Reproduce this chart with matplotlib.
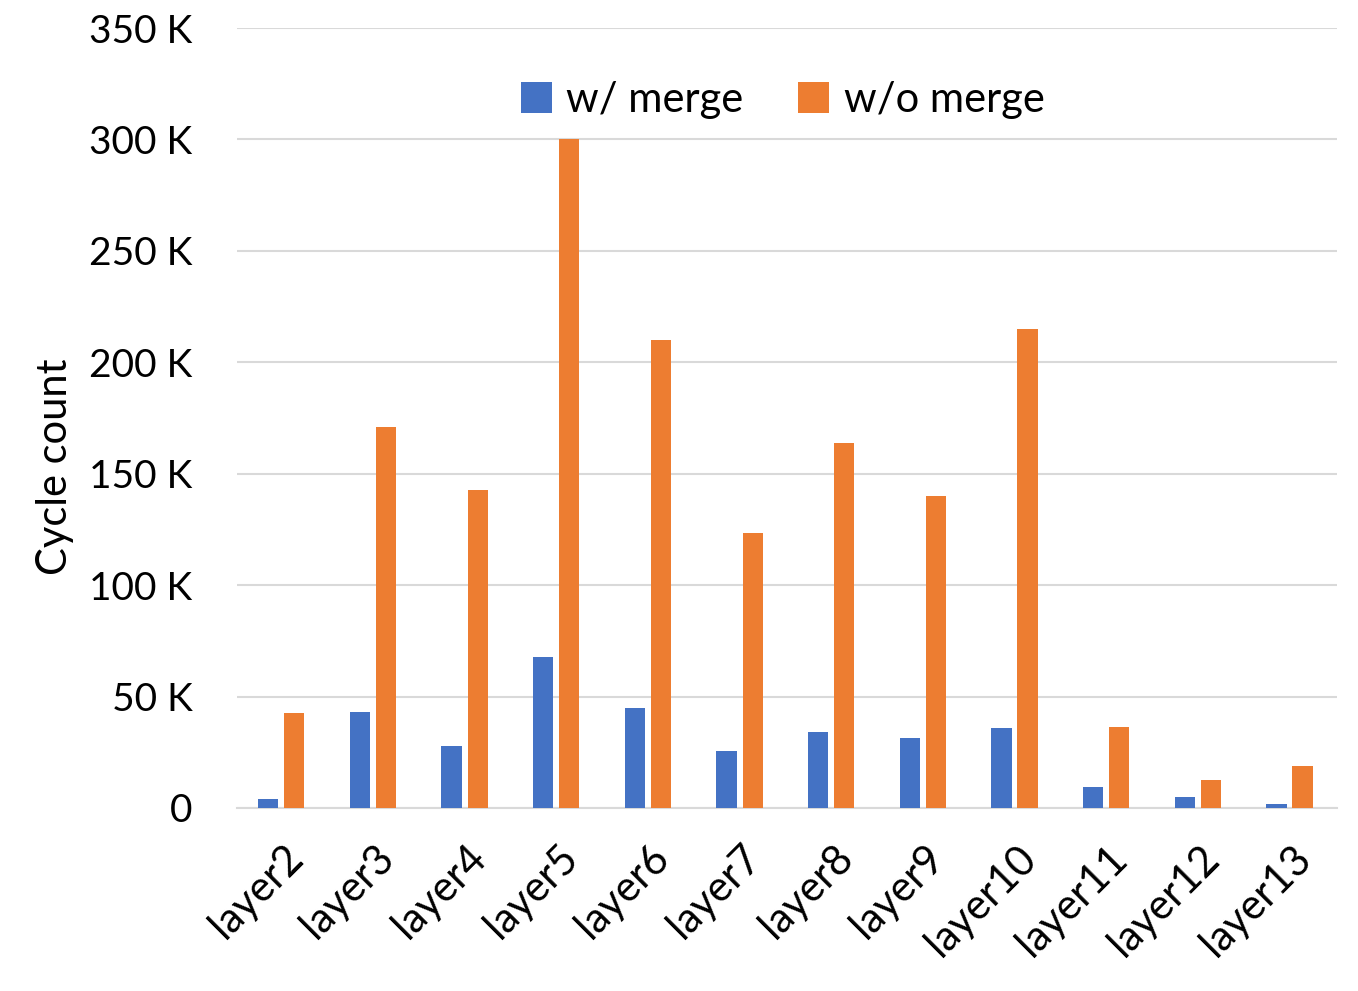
import matplotlib.pyplot as plt
import numpy as np

plt.rcParams['font.family'] = ['Lato', 'DejaVu Sans']

layers = ['layer2', 'layer3', 'layer4', 'layer5', 'layer6', 'layer7',
          'layer8', 'layer9', 'layer10', 'layer11', 'layer12', 'layer13']
with_merge = [3.9, 43.1, 27.8, 67.8, 44.9, 25.6, 34.0, 31.4, 35.9, 9.6, 5.0, 1.8]
without_merge = [42.6, 171, 142.7, 300, 210, 123.4, 164, 140, 215, 36.5, 12.7, 19]
yticks = [0, 50, 100, 150, 200, 250, 300, 350]

blue = '#4472C4'
orange = '#ED7D31'

fig = plt.figure(figsize=(13.58, 9.91), dpi=100)
ax = fig.add_axes([0.1745, 0.1847, 0.81, 0.787])

x = np.arange(len(layers))
w = 0.22
ax.bar(x - 0.16, with_merge, w, color=blue, label='w/ merge', zorder=3)
ax.bar(x + 0.125, without_merge, w, color=orange, label='w/o merge', zorder=3)

ax.set_xlim(-0.5, len(layers) - 0.5)
ax.set_ylim(0, 350)
ax.set_yticks(yticks)
ax.set_yticklabels(['0' if v == 0 else f'{v} K' for v in yticks], fontsize=28)
ax.set_xticks(x)
ax.set_xticklabels(layers, rotation=45, ha='right', rotation_mode='anchor', fontsize=30)
ax.tick_params(axis='both', length=0)
ax.tick_params(axis='y', pad=32)
ax.tick_params(axis='x', pad=22)
ax.grid(axis='y', color='#D9D9D9', linewidth=1.5, zorder=0)
for s in ['top', 'right', 'left']:
    ax.spines[s].set_visible(False)
ax.spines['bottom'].set_color('#D9D9D9')
ax.spines['bottom'].set_linewidth(1.5)

ax.set_ylabel('Cycle count', fontsize=30)
ax.yaxis.set_label_coords(-0.148, 0.437)

ax.legend(loc='center', bbox_to_anchor=(0.496, 0.908), ncol=2, frameon=False,
          fontsize=30, handlelength=0.75, handleheight=0.75, columnspacing=1.3,
          handletextpad=0.35)

fig.savefig('out.png', dpi=100)
